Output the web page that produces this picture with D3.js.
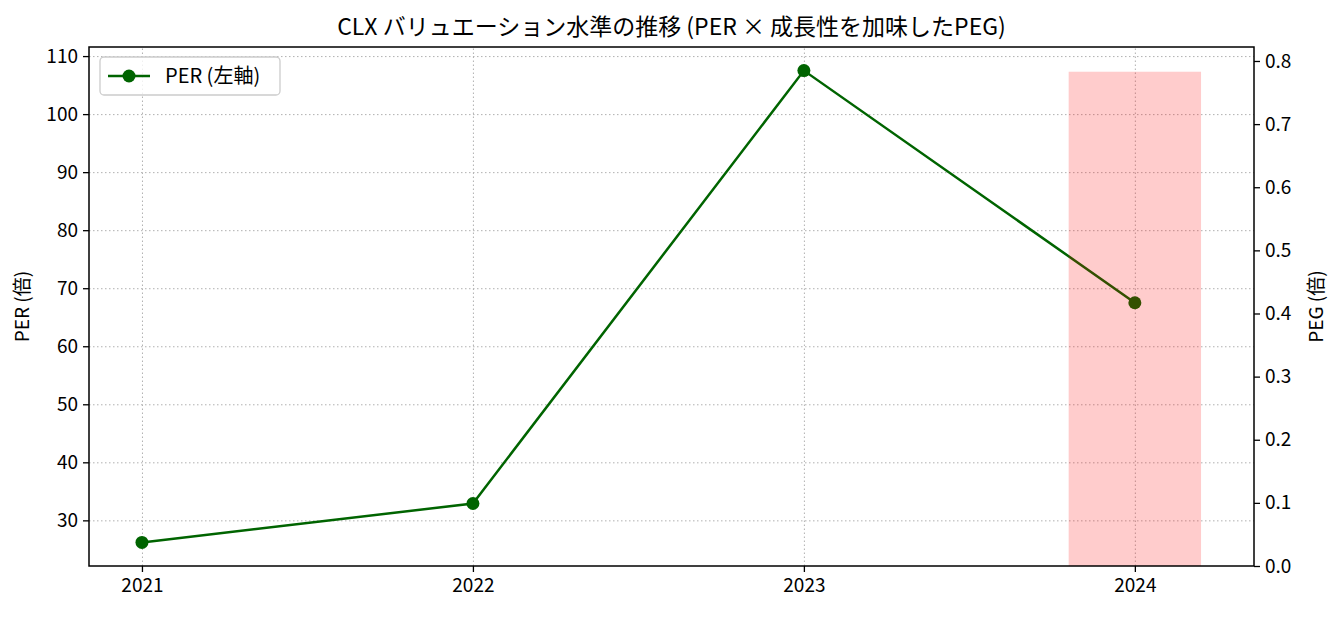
<!DOCTYPE html>
<html>
<head>
<meta charset="utf-8">
<script src="https://cdn.jsdelivr.net/npm/d3@7.9.0/dist/d3.min.js"></script>
<style>
  body { margin: 0; background: #fff; }
  svg text { font-family: "Noto Sans CJK JP", sans-serif; fill: #000; }
  .grid line { stroke: #b0b0b0; stroke-dasharray: 1.5 2.5; stroke-width: 1; }
  .grid path { display: none; }
  .axis path, .axis line { stroke: #000; stroke-width: 1.3; }
</style>
</head>
<body>
<svg id="chart" width="1341" height="617"></svg>
<script>
const years = [2021, 2022, 2023, 2024];
const perValues = [26.2, 32.9, 107.5, 67.5];
const pegYears = [2024];
const pegValues = [0.783];
const perTicks = [30, 40, 50, 60, 70, 80, 90, 100, 110];
const pegTicks = [0, 0.1, 0.2, 0.3, 0.4, 0.5, 0.6, 0.7, 0.8];
const title = 'CLX バリュエーション水準の推移 (PER × 成長性を加味したPEG)';

const width = 1341, height = 617;
const margin = { top: 47, right: 87, bottom: 51, left: 89 };
const plot = {
  left: margin.left, right: width - margin.right,
  top: margin.top, bottom: height - margin.bottom
};
const barWidth = 0.4;

const svg = d3.select('#chart');

// x domain like matplotlib: data + bar extents, 5% padding
const xMin = Math.min(d3.min(years), d3.min(pegYears) - barWidth / 2);
const xMax = Math.max(d3.max(years), d3.max(pegYears) + barWidth / 2);
const xPad = (xMax - xMin) * 0.05;
const x = d3.scaleLinear().domain([xMin - xPad, xMax + xPad]).range([plot.left, plot.right]);

const [pMin, pMax] = d3.extent(perValues);
const pPad = (pMax - pMin) * 0.05;
const y = d3.scaleLinear().domain([pMin - pPad, pMax + pPad]).range([plot.bottom, plot.top]);

const y2 = d3.scaleLinear().domain([0, d3.max(pegValues) * 1.05]).range([plot.bottom, plot.top]);

// grid
svg.append('g').attr('class', 'grid')
  .attr('transform', `translate(0,${plot.bottom})`)
  .call(d3.axisBottom(x).tickValues(years).tickFormat('').tickSize(-(plot.bottom - plot.top)));
svg.append('g').attr('class', 'grid')
  .attr('transform', `translate(${plot.left},0)`)
  .call(d3.axisLeft(y).tickValues(perTicks).tickFormat('').tickSize(-(plot.right - plot.left)));

// PER line
const data = years.map((yr, i) => ({ yr, v: perValues[i] }));
svg.append('path')
  .datum(data)
  .attr('fill', 'none')
  .attr('stroke', '#006400')
  .attr('stroke-width', 2.5)
  .attr('d', d3.line().x(d => x(d.yr)).y(d => y(d.v)));
svg.append('g').selectAll('circle')
  .data(data)
  .join('circle')
  .attr('cx', d => x(d.yr))
  .attr('cy', d => y(d.v))
  .attr('r', 6.5)
  .attr('fill', '#006400');

// PEG bars (twin axis, drawn on top)
svg.append('g').selectAll('rect')
  .data(pegYears.map((yr, i) => ({ yr, v: pegValues[i] })))
  .join('rect')
  .attr('x', d => x(d.yr - barWidth / 2))
  .attr('width', d => x(d.yr + barWidth / 2) - x(d.yr - barWidth / 2))
  .attr('y', d => y2(d.v))
  .attr('height', d => y2(0) - y2(d.v))
  .attr('fill', 'red')
  .attr('fill-opacity', 0.2);

// axes
const tickFont = 19;
const xAxis = svg.append('g').attr('class', 'axis')
  .attr('transform', `translate(0,${plot.bottom})`)
  .call(d3.axisBottom(x).tickValues(years).tickFormat(d3.format('d')).tickSize(6).tickPadding(7));
const yAxis = svg.append('g').attr('class', 'axis')
  .attr('transform', `translate(${plot.left},0)`)
  .call(d3.axisLeft(y).tickValues(perTicks).tickSize(6).tickPadding(5));
const y2Axis = svg.append('g').attr('class', 'axis')
  .attr('transform', `translate(${plot.right},0)`)
  .call(d3.axisRight(y2).tickValues(pegTicks).tickFormat(d3.format('.1f')).tickSize(6).tickPadding(5));
[xAxis, yAxis, y2Axis].forEach(a => {
  a.select('.domain').remove();
  a.selectAll('text').attr('font-size', tickFont).attr('fill', '#000');
});

// frame
svg.append('rect')
  .attr('x', plot.left).attr('y', plot.top)
  .attr('width', plot.right - plot.left).attr('height', plot.bottom - plot.top)
  .attr('fill', 'none').attr('stroke', '#000').attr('stroke-width', 1.5);

// labels
svg.append('text')
  .attr('x', (plot.left + plot.right) / 2).attr('y', 35)
  .attr('text-anchor', 'middle').attr('font-size', 23)
  .text(title);
svg.append('text')
  .attr('transform', `translate(29,${(plot.top + plot.bottom) / 2}) rotate(-90)`)
  .attr('text-anchor', 'middle').attr('font-size', 19)
  .text('PER (倍)');
svg.append('text')
  .attr('transform', `translate(1323,${(plot.top + plot.bottom) / 2}) rotate(-90)`)
  .attr('text-anchor', 'middle').attr('font-size', 19)
  .text('PEG (倍)');

// legend
const lg = svg.append('g').attr('transform', `translate(${plot.left + 11},${plot.top + 10})`);
lg.append('rect')
  .attr('width', 180).attr('height', 38).attr('rx', 4)
  .attr('fill', '#fff').attr('fill-opacity', 0.8)
  .attr('stroke', '#ccc').attr('stroke-width', 1.3);
lg.append('line')
  .attr('x1', 8).attr('x2', 50).attr('y1', 19).attr('y2', 19)
  .attr('stroke', '#006400').attr('stroke-width', 2.5);
lg.append('circle').attr('cx', 29).attr('cy', 19).attr('r', 6.5).attr('fill', '#006400');
lg.append('text').attr('x', 65).attr('y', 26).attr('font-size', 20).text('PER (左軸)');
</script>
</body>
</html>
